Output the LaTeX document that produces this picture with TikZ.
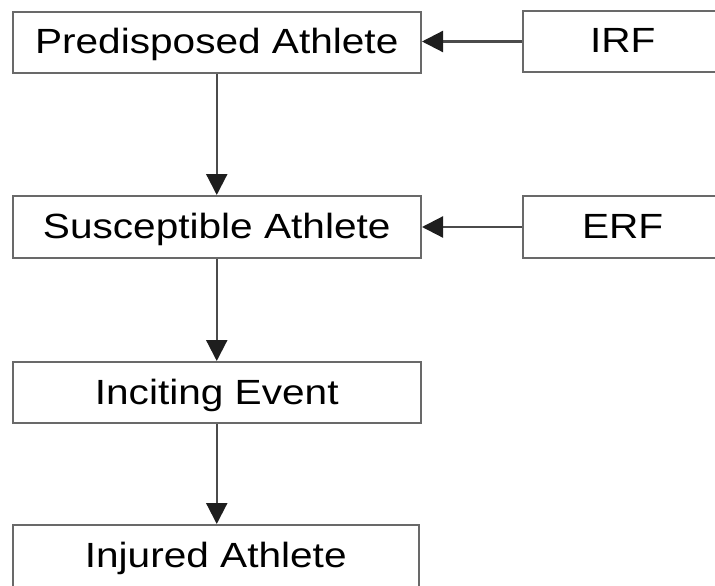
\documentclass[tikz,border=0pt]{standalone}
\usepackage{fontspec}
\setmainfont{Liberation Sans}[FakeStretch=1.16]
\usetikzlibrary{arrows.meta}
\definecolor{boxgray}{RGB}{105,105,105}
\definecolor{linegray}{RGB}{75,75,75}
\definecolor{headblack}{RGB}{30,30,30}
\begin{document}
\begin{tikzpicture}[x=1pt,y=-1pt,
  box/.style={draw=boxgray,line width=2pt,fill=white,inner sep=0pt,
    text height=25pt,text depth=2pt,
    font=\fontsize{35}{40}\selectfont,text=black},
  link/.style={draw=linegray,line width=2.2pt,
    -{Triangle[length=21pt,width=21pt,fill=headblack,color=headblack]}}]
\useasboundingbox (0,0) rectangle (715,586);
\clip (0,0) rectangle (715,586);
\node[box,minimum width=408.5pt,minimum height=61pt] (pa) at (216.75,42.5) {Predisposed Athlete};
\node[box,minimum width=200pt,minimum height=61pt] (irf) at (622.7,41.5) {IRF};
\node[box,minimum width=408.5pt,minimum height=62pt] (sa) at (216.75,227) {Susceptible Athlete};
\node[box,minimum width=200pt,minimum height=62pt] (erf) at (622.7,227) {ERF};
\node[box,minimum width=408.5pt,minimum height=61pt] (ie) at (216.75,392.5) {Inciting Event};
\node[box,minimum width=406.5pt,minimum height=62pt] (ia) at (215.75,556) {Injured Athlete};
\draw[link] (irf.west) -- (pa.east |- irf.west);
\draw[link] (erf.west) -- (sa.east);
\draw[link] (pa.south) -- (sa.north);
\draw[link] (sa.south) -- (ie.north);
\draw[link] (ie.south) -- (ie.south |- ia.north);
\end{tikzpicture}
\end{document}
